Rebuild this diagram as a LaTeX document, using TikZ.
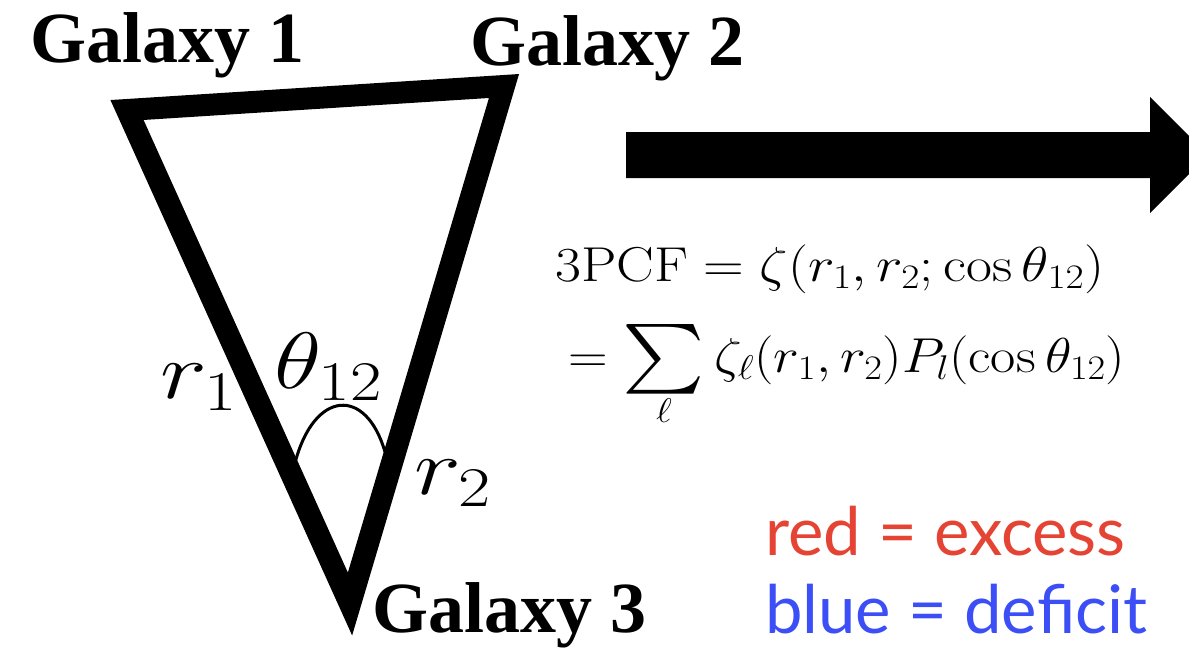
\RequirePackage{fix-cm}
\documentclass[tikz,border=0pt]{standalone}
\usepackage{fontspec}
\usepackage{amsmath}
\usepackage{graphicx}
\newfontfamily\galfont{Liberation Serif}
\newfontfamily\legfont{Lato}
\definecolor{redx}{RGB}{229,68,52}
\definecolor{bluex}{RGB}{60,78,246}
\newcommand{\bigsumx}{\mathop{\vcenter{\hbox{\scalebox{2.8}{$\sum$}}}}\limits}
\tikzset{
  gal/.style={font=\galfont\bfseries\fontsize{72}{72}\selectfont, inner sep=0pt},
  lab/.style={font=\fontsize{80}{80}\selectfont, inner sep=0pt},
  eq/.style={font=\fontsize{49}{49}\selectfont, inner sep=0pt},
  leg/.style={font=\legfont\fontsize{67}{67}\selectfont, inner sep=0pt},
  tri/.style={line width=22pt, line join=miter},
}
\begin{document}
\begin{tikzpicture}[x=1pt,y=-1pt]
\useasboundingbox (0,0) rectangle (1189,654);
\clip (0,0) rectangle (1189,654);
% triangle vertices
\coordinate (g1) at (127,110);
\coordinate (g2) at (504,86);
\coordinate (g3) at (350,604);
\draw[tri] (g1) -- (g2) -- (g3) -- cycle;
% angle arc
\coordinate (a1) at (295,463);
\coordinate (a2) at (385,452);
\draw[line width=3pt] (a1) .. controls (314,390) and (366,386) .. (a2);
% labels
\node[gal, anchor=base west] (G1) at (30,62) {Galaxy 1};
\node[gal, anchor=base west] (G2) at (470,65) {Galaxy 2};
\node[gal, anchor=base west] (G3) at (372,632) {Galaxy 3};
\node[lab, anchor=base west] (r1) at (160,398) {\scalebox{1.25}[1]{$r_1$}};
\node[lab, anchor=base west] (th) at (274,388) {\scalebox{1.22}[1]{$\theta_{12}$}};
\node[lab, anchor=base west] (r2) at (414,494) {\scalebox{1.25}[1]{$r_2$}};
% formula
\node[eq, anchor=base west] (f1) at (555,281) {\scalebox{1.15}[1]{$\mathrm{3PCF}=\zeta(r_1,r_2;\cos\theta_{12})$}};
\node[eq, anchor=base west] (f2) at (568,372) {\scalebox{1.12}[1]{$\displaystyle =\bigsumx_{\lower12pt\hbox{$\scriptstyle\ell$}}\zeta_\ell(r_1,r_2)P_l(\cos\theta_{12})$}};
% legend
\node[leg, anchor=base west, text=redx] (red) at (765,555) {red = excess};
\node[leg, anchor=base west, text=bluex] (blue) at (765,633) {blue = deficit};
% big arrow
\fill (626,132) -- (1150,132) -- (1150,97) -- (1208,155) -- (1150,213) -- (1150,178) -- (626,178) -- cycle;
\end{tikzpicture}
\end{document}
